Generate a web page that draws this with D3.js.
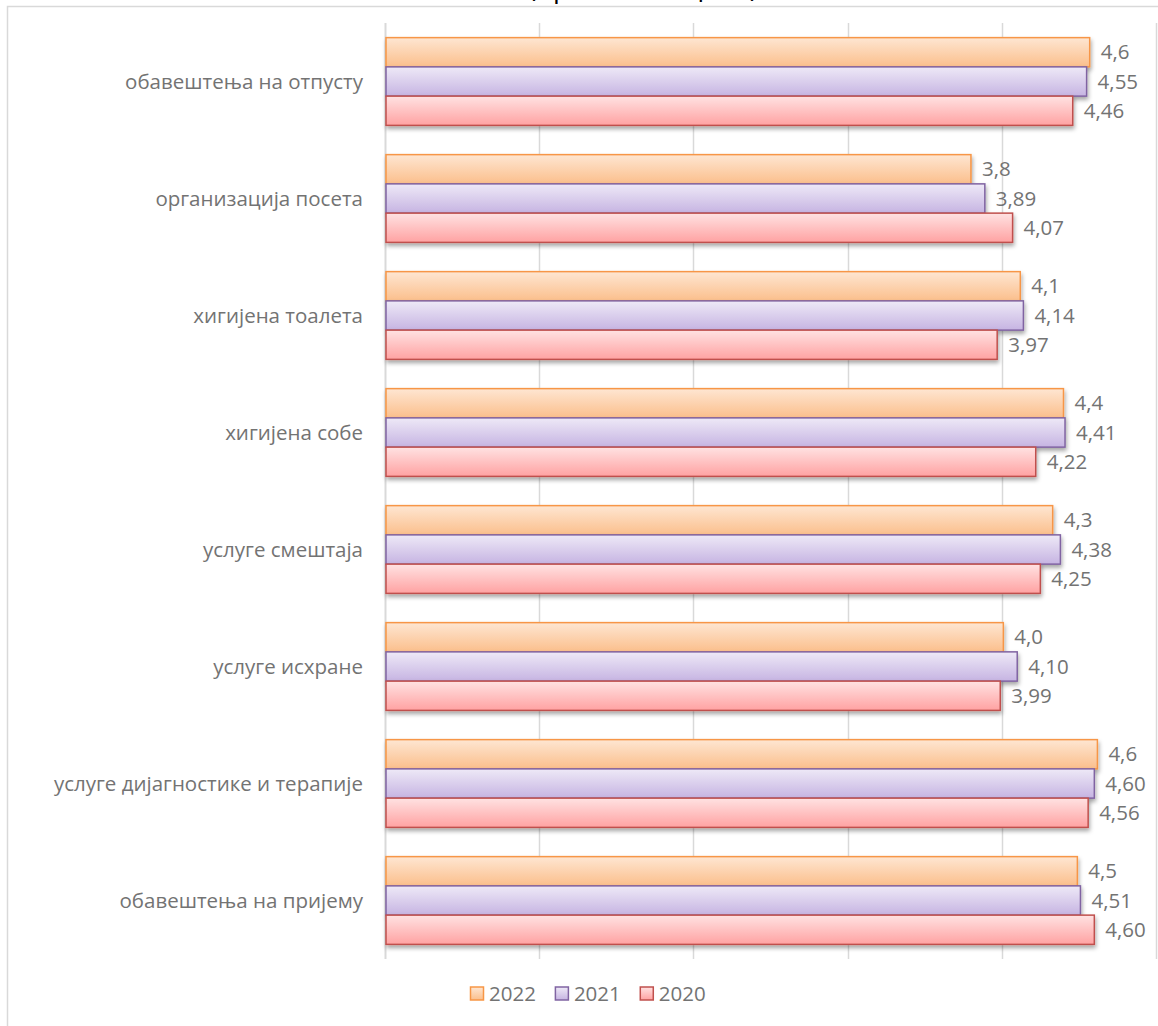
<!DOCTYPE html>
<html>
<head>
<meta charset="utf-8">
<script src="https://cdn.jsdelivr.net/npm/d3@7"></script>
<style>
  body { margin: 0; background: #fff; }
  text { font-family: "Open Sans", "Noto Sans", sans-serif; }
</style>
</head>
<body>
<div id="chart"></div>
<script>
var svgWidth = 1158;
var svgHeight = 1026;

// data, top to bottom
var categories = [
  "обавештења на отпусту",
  "организација посета",
  "хигијена тоалета",
  "хигијена собе",
  "услуге смештаја",
  "услуге исхране",
  "услуге дијагностике и терапије",
  "обавештења на пријему"
];
var seriesNames = ["2022", "2021", "2020"];
var values2022 = [4.57, 3.80, 4.12, 4.40, 4.33, 4.01, 4.62, 4.49];
var values2021 = [4.55, 3.89, 4.14, 4.41, 4.38, 4.10, 4.60, 4.51];
var values2020 = [4.46, 4.07, 3.97, 4.22, 4.25, 3.99, 4.56, 4.60];
var labelDecimals = [1, 2, 2];
var xTicks = [0, 1, 2, 3, 4, 5];
var titleText = "(просечна оцена)";

var seriesValues = [values2022, values2021, values2020];
var colors = [
  {top: "#fee6d2", bottom: "#fbbf8c", stroke: "#f79646"},
  {top: "#eee9f7", bottom: "#c6b4e2", stroke: "#8064a2"},
  {top: "#ffe2e2", bottom: "#ffa2a2", stroke: "#c0504d"}
];

var margin = {top: 23, left: 385, right: 2, bottom: 67};
var chartHeight = svgHeight - margin.top - margin.bottom;

var svg = d3.select("#chart")
  .append("svg")
  .attr("width", svgWidth)
  .attr("height", svgHeight);

var defs = svg.append("defs");
colors.forEach(function(c, i) {
  var g = defs.append("linearGradient")
    .attr("id", "grad" + i)
    .attr("x1", 0).attr("y1", 0).attr("x2", 0).attr("y2", 1);
  g.append("stop").attr("offset", "0%").attr("stop-color", c.top);
  g.append("stop").attr("offset", "100%").attr("stop-color", c.bottom);
});
var shadow = defs.append("filter").attr("id", "shadow")
  .attr("x", "-5%").attr("y", "-30%").attr("width", "110%").attr("height", "180%");
shadow.append("feDropShadow")
  .attr("dx", 1).attr("dy", 3).attr("stdDeviation", 2)
  .attr("flood-color", "#000").attr("flood-opacity", 0.35);

// title (mostly cut off at the top of the picture)
svg.append("text")
  .attr("x", 643)
  .attr("y", -3)
  .attr("text-anchor", "middle")
  .style("font-size", "27px")
  .attr("fill", "#000")
  .text(titleText);

// outer border
svg.append("rect")
  .attr("x", 7.5).attr("y", 6.5)
  .attr("width", svgWidth).attr("height", svgHeight)
  .attr("fill", "none")
  .attr("stroke", "#d9d9d9")
  .attr("stroke-width", 1.5);

var chartGroup = svg.append("g")
  .attr("transform", `translate(${margin.left},${margin.top})`);

var xScale = d3.scaleLinear().domain([0, 5]).range([0, 771]);

var yScale = d3.scaleBand()
  .domain(categories)
  .range([0, chartHeight])
  .paddingInner(0.25)
  .paddingOuter(0.125);

var ySub = d3.scaleBand()
  .domain(seriesNames)
  .range([0, yScale.bandwidth()]);

// gridlines
chartGroup.append("g")
  .selectAll("line")
  .data(xTicks)
  .enter()
  .append("line")
  .attr("x1", d => Math.round(xScale(d)) + 0.5)
  .attr("x2", d => Math.round(xScale(d)) + 0.5)
  .attr("y1", 0)
  .attr("y2", chartHeight)
  .attr("stroke", "#d9d9d9")
  .attr("stroke-width", d => d === 0 ? 2 : 1.5);

var groups = chartGroup.selectAll("g.cat")
  .data(categories)
  .enter()
  .append("g")
  .attr("class", "cat")
  .attr("transform", d => `translate(0,${yScale(d)})`);

seriesNames.forEach(function(s, si) {
  groups.append("rect")
    .attr("x", 1)
    .attr("y", ySub(s))
    .attr("width", (d, i) => xScale(seriesValues[si][i]) - 1)
    .attr("height", ySub.bandwidth())
    .attr("fill", "url(#grad" + si + ")")
    .attr("stroke", colors[si].stroke)
    .attr("stroke-width", 1.5)
    .attr("filter", "url(#shadow)");
});

seriesNames.forEach(function(s, si) {
  groups.append("text")
    .attr("x", (d, i) => xScale(seriesValues[si][i]) + 11)
    .attr("y", ySub(s) + ySub.bandwidth() / 2)
    .attr("dy", "0.35em")
    .style("font-size", "20.5px")
    .attr("fill", "#737373")
    .text((d, i) => seriesValues[si][i].toFixed(labelDecimals[si]).replace(".", ","));
});

// category labels
groups.append("text")
  .attr("x", -22)
  .attr("y", yScale.bandwidth() / 2)
  .attr("dy", "0.35em")
  .attr("text-anchor", "end")
  .style("font-size", "20.5px")
  .attr("fill", "#737373")
  .text(d => d);

// legend
var legend = svg.append("g").attr("transform", "translate(470,994)");
var lx = 0;
seriesNames.forEach(function(s, si) {
  var item = legend.append("g").attr("transform", `translate(${lx},0)`);
  item.append("rect")
    .attr("x", 0.5).attr("y", -7)
    .attr("width", 13).attr("height", 13)
    .attr("fill", "url(#grad" + si + ")")
    .attr("stroke", colors[si].stroke)
    .attr("stroke-width", 1.5);
  var t = item.append("text")
    .attr("x", 19)
    .attr("y", 0)
    .attr("dy", "0.35em")
    .style("font-size", "20.5px")
    .attr("fill", "#737373")
    .text(s);
  lx += 19 + t.node().getComputedTextLength() + 19;
});
</script>
</body>
</html>
